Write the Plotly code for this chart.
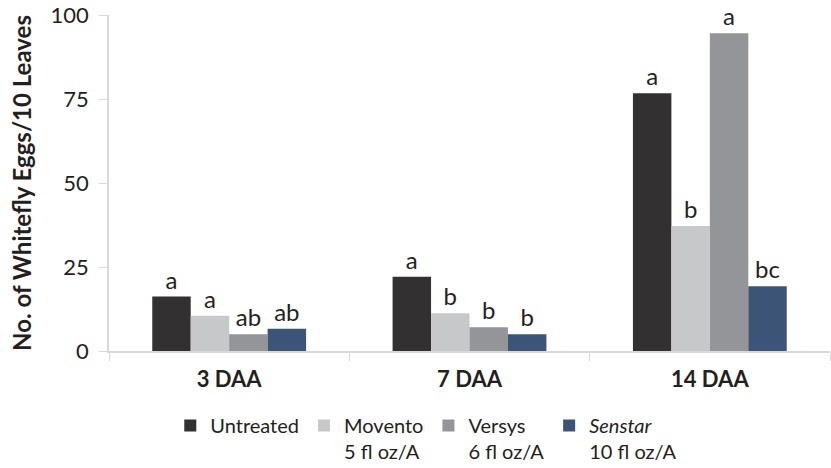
import plotly.graph_objects as go

categories = ["3 DAA", "7 DAA", "14 DAA"]
series_names = ["Untreated", "Movento<br>5 fl oz/A", "Versys<br>6 fl oz/A", "<i>Senstar</i><br>10 fl oz/A"]
untreated = [16.2, 22.1, 76.7]
movento = [10.5, 11.2, 37.2]
versys = [5.0, 7.1, 94.6]
senstar = [6.6, 5.0, 19.3]
letters_untreated = ["a", "a", "a"]
letters_movento = ["a", "b", "b"]
letters_versys = ["ab", "b", "a"]
letters_senstar = ["ab", "b", "bc"]
colors = ["#323031", "#c7c8ca", "#949598", "#3c5475"]
y_ticks = [0, 25, 50, 75, 100]

values = [untreated, movento, versys, senstar]
letters = [letters_untreated, letters_movento, letters_versys, letters_senstar]

font_family = "Lato, Open Sans, sans-serif"
fig = go.Figure()
for name, vals, labs, col in zip(series_names, values, letters, colors):
    fig.add_trace(go.Bar(
        x=categories, y=vals, name=name, marker_color=col,
        marker_line_width=0,
        text=labs, textposition="outside", cliponaxis=False,
        textfont=dict(size=24, color="#231f20", family=font_family),
    ))

fig.update_layout(
    width=831, height=468,
    margin=dict(l=109, r=1, t=15, b=117, autoexpand=False),
    paper_bgcolor="white", plot_bgcolor="white",
    barmode="group", bargap=0.36, bargroupgap=0,
    font=dict(family=font_family, size=21, color="#231f20"),
    showlegend=True,
    legend=dict(orientation="h", x=0.085, xanchor="left", y=-0.164, yanchor="top",
                font=dict(size=20, color="#231f20"),
                traceorder="normal", valign="top"),
    uniformtext=dict(mode=False),
)
fig.update_xaxes(
    type="category", showline=True, linecolor="#d9d9d9", linewidth=1.5,
    ticks="outside", tickson="boundaries", ticklen=8, tickcolor="#d9d9d9",
    tickfont=dict(size=22, family=font_family, color="#231f20", weight="bold"),
    ticklabelstandoff=8,
    showgrid=False, automargin=False,
)
fig.update_yaxes(
    range=[0, 100], tickvals=y_ticks, showline=True, linecolor="#d9d9d9", linewidth=1.5,
    ticks="outside", ticklen=8, tickcolor="#d9d9d9", showgrid=False, zeroline=False,
    title=dict(text="<b>No. of Whitefly Eggs/10 Leaves</b>", font=dict(size=24), standoff=12),
    tickfont=dict(size=22), ticklabelstandoff=6, ticklabeloverflow="allow", automargin=False,
)
fig.write_html("out.html", config={"displayModeBar": False},
               post_script="document.body.style.margin='0';")
